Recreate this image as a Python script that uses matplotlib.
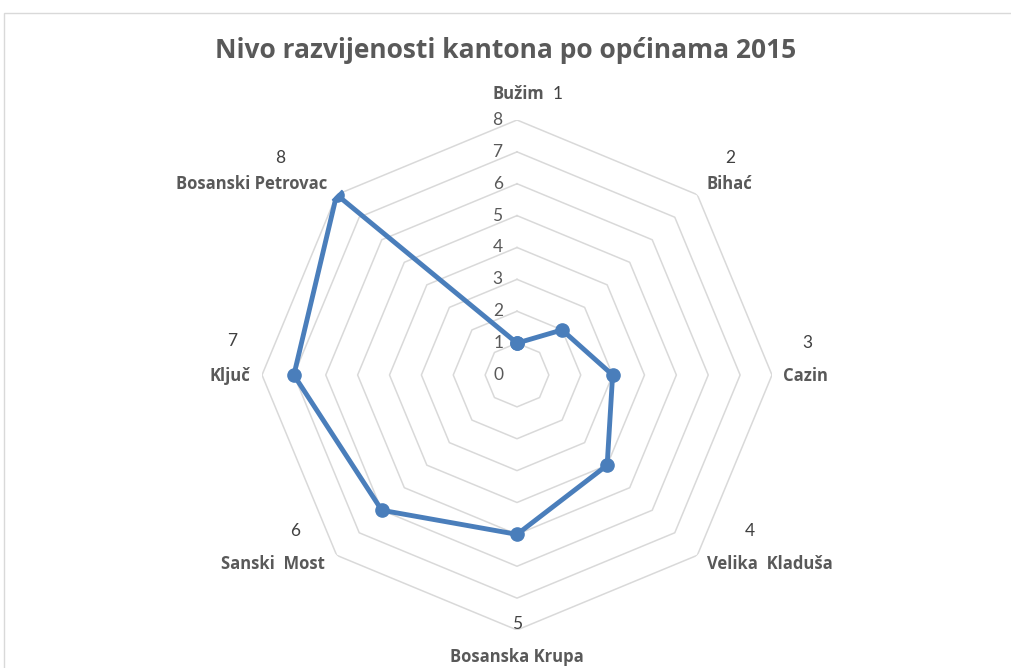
import numpy as np
import matplotlib.pyplot as plt
from matplotlib.patches import Rectangle

# data
municipalities = ["Bužim", "Bihać", "Cazin", "Velika  Kladuša", "Bosanska Krupa",
                  "Sanski  Most", "Ključ", "Bosanski Petrovac"]
ranks = [1, 2, 3, 4, 5, 6, 7, 8]
levels = [1, 2, 3, 4, 5, 6, 7, 8]
scale_labels = ["0", "1", "2", "3", "4", "5", "6", "7", "8"]

W, H = 1011, 668
FONT = "Open Sans"
NUMFONT = "Lato"
grey = "#595959"
blue = "#4a7ebb"

def fx(px):
    return px / W

def fy(py):
    return 1 - py / H

fig = plt.figure(figsize=(W / 100, H / 100), dpi=100)
fig.patches.append(Rectangle((fx(4), fy(1000)), 2, fy(13) - fy(1000), transform=fig.transFigure,
                             fill=False, edgecolor="#d9d9d9", linewidth=1))

cx, cy, R = 517, 375, 255
ax = fig.add_axes([fx(cx - R), fy(cy + R), 2 * R / W, 2 * R / H], projection="polar")
ax.set_theta_zero_location("N")
ax.set_theta_direction(-1)
ax.set_ylim(0, 8)
ax.grid(False)
ax.set_xticks([])
ax.set_yticks([])
ax.spines["polar"].set_visible(False)
ax.patch.set_alpha(0)

n = len(municipalities)
theta = np.linspace(0, 2 * np.pi, n, endpoint=False)
theta_closed = np.append(theta, theta[0])

# octagonal gridlines
for lv in levels:
    ax.plot(theta_closed, [lv] * (n + 1), color="#d9d9d9", linewidth=1.1, zorder=1)

vals = np.append(ranks, ranks[0])
ax.plot(theta_closed, vals, color=blue, linewidth=3.5, marker="o", markersize=9.5,
        markerfacecolor=blue, markeredgecolor=blue, zorder=3, solid_joinstyle="round")

# value scale labels
for i, s in enumerate(scale_labels):
    ax.text(0, i, s + "   ", ha="right", va="center", fontsize=12.5, color=grey,
            family=NUMFONT)

fig.text(0.5, fy(50), "Nivo razvijenosti kantona po općinama 2015", ha="center", va="center",
         fontsize=19, fontweight="bold", color=grey, family=FONT)

# category labels (number over name)
label_pos = [
    (None, (518, 94)),
    ((730, 158), (729, 184)),
    ((807, 343), (805, 376)),
    ((750, 531), (770, 564)),
    ((517, 624), (517, 657)),
    ((295, 531), (273, 564)),
    ((232, 341), (230, 376)),
    ((280, 158), (252, 184)),
]
for i, (name, (npos, lpos)) in enumerate(zip(municipalities, label_pos)):
    fig.text(fx(lpos[0]), fy(lpos[1]), name, ha="center", va="center", fontsize=12,
             fontweight="bold", color=grey, family=FONT)
    if npos is not None:
        fig.text(fx(npos[0]), fy(npos[1]), str(ranks[i]), ha="center", va="center",
                 fontsize=12.5, color="#404040", family=NUMFONT)
fig.text(fx(558), fy(94), str(ranks[0]), ha="center", va="center", fontsize=12.5,
         color="#404040", family=NUMFONT)

plt.savefig("out.png", dpi=100)
